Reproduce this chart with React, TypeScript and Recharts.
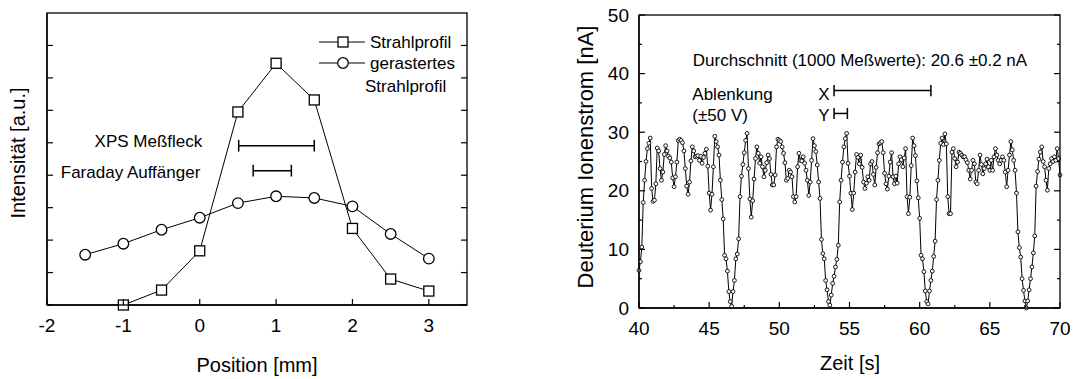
import React from "react";
import {
  ScatterChart,
  Scatter,
  XAxis,
  YAxis,
  ReferenceLine,
  ReferenceDot,
  Legend,
} from "recharts";

const FONT = "'Liberation Sans', Arial, Helvetica, sans-serif";

// left panel: beam profile (arbitrary units)
const profilePos = [-1, -0.5, 0, 0.5, 1, 1.5, 2, 2.5, 3];
const profileVal = [0, 0.46, 1.67, 5.95, 7.45, 6.32, 2.36, 0.8, 0.43];
const rasterPos = [-1.5, -1, -0.5, 0, 0.5, 1, 1.5, 2, 2.5, 3];
const rasterVal = [1.55, 1.89, 2.32, 2.69, 3.14, 3.35, 3.3, 3.04, 2.19, 1.43];
const posTicks = [-2, -1, 0, 1, 2, 3];
const intensityTicks = [0, 1, 2, 3, 4, 5, 6, 7, 8];
const xpsSpot = [0.51, 1.5];
const faradayCup = [0.7, 1.2];

// right panel: deuterium ion current, one sample every 0.1 s from 40 s
const tStart = 40;
const tStep = 0.1;
const current1 = [
  6.4, 7.9, 10.4, 18.0, 21.8, 25.0, 27.2, 28.1, 29.0, 20.4,
  18.2, 18.4, 21.2, 27.3, 26.8, 23.8, 21.8, 23.2, 26.2, 27.7,
  26.8, 25.9, 25.6, 24.9, 22.2, 20.7, 22.4, 24.9, 28.6, 28.8,
  28.6, 28.2, 26.8, 23.8, 20.8, 19.4, 21.5, 25.1, 27.5, 26.8,
  25.8, 25.9, 26.0, 25.2, 25.9, 24.7, 25.7, 26.4, 27.1, 24.2,
];
const current2 = [
  19.6, 16.7, 19.4, 24.1, 29.3, 28.4, 27.5, 26.1, 21.8, 18.5,
  15.2, 9.0, 8.4, 6.3, 2.8, 1.1, 0.3, 2.8, 4.7, 8.4,
  9.2, 11.8, 19.0, 22.5, 24.5, 26.5, 28.6, 29.8, 23.8, 18.6,
  15.5, 18.3, 22.0, 25.5, 27.5, 26.4, 24.7, 25.8, 24.1, 22.4,
  23.5, 24.8, 26.1, 25.5, 22.8, 21.0, 21.0, 22.7, 27.5, 28.8,
];
const current3 = [
  28.6, 28.4, 27.5, 26.4, 24.8, 21.8, 22.1, 23.5, 23.2, 22.4,
  19.0, 18.1, 19.0, 24.1, 26.4, 25.2, 25.1, 25.8, 24.7, 23.5,
  21.8, 19.2, 21.5, 25.2, 28.9, 27.7, 26.7, 24.4, 21.5, 18.7,
  11.7, 9.3, 8.4, 4.7, 3.1, 1.1, 0.5, 2.2, 4.2, 5.4,
  7.0, 8.3, 10.7, 18.1, 21.8, 24.9, 27.5, 28.9, 29.8, 24.7,
];
const current4 = [
  22.5, 19.6, 16.8, 19.6, 23.2, 26.2, 25.7, 24.6, 26.1, 24.0,
  21.5, 20.4, 21.3, 22.4, 21.8, 24.6, 25.0, 22.8, 21.0, 24.0,
  26.5, 28.0, 28.2, 28.4, 26.5, 23.0, 21.2, 20.3, 22.5, 24.9,
  26.5, 22.4, 21.2, 22.5, 21.3, 24.6, 25.8, 25.3, 24.1, 25.6,
  27.2, 19.0, 16.1, 18.9, 24.3, 29.0, 27.7, 26.0, 21.7,
];
const current5 = [
  18.8, 15.3, 9.0, 8.4, 6.2, 2.9, 1.1, 0.7, 2.9, 4.7,
  6.3, 8.8, 11.4, 18.5, 21.8, 25.2, 28.1, 29.0, 27.9, 29.7,
  28.0, 19.0, 16.1, 16.1, 26.6, 27.2, 25.5, 24.1, 24.9, 26.6,
  26.4, 26.1, 25.8, 25.8, 25.3, 24.8, 23.5, 22.0, 23.5, 25.2,
  24.6, 21.5, 21.2, 23.5, 26.1, 24.5, 22.9, 23.8, 24.6, 25.4,
];
const current6 = [
  24.1, 23.5, 25.2, 23.5, 25.8, 27.2, 26.1, 25.2, 24.6, 25.2,
  25.8, 25.2, 23.2, 20.7, 23.5, 26.1, 28.4, 27.0, 25.2, 23.5,
  19.6, 13.0, 10.3, 8.7, 5.0, 3.0, 1.2, 0.0, 1.2, 3.1,
  5.0, 7.0, 9.4, 12.3, 20.8, 23.3, 25.4, 26.6, 27.5, 25.0,
  24.1, 21.8, 20.1, 23.8, 24.6, 25.5, 25.0, 25.8, 25.2, 27.2,
  25.5, 22.7,
];
const timeTicks = [40, 42.5, 45, 47.5, 50, 52.5, 55, 57.5, 60, 62.5, 65, 67.5, 70];
const currentTicks = [0, 5, 10, 15, 20, 25, 30, 35, 40, 45, 50];
const deflectX = [53.9, 60.8];
const deflectY = [53.9, 54.85];

const profileData = profilePos.map((x, i) => ({ x, y: profileVal[i] }));
const rasterData = rasterPos.map((x, i) => ({ x, y: rasterVal[i] }));
const currentData = [
  ...current1, ...current2, ...current3, ...current4, ...current5, ...current6,
].map((v, i) => ({ t: +(tStart + i * tStep).toFixed(1), v }));

const Square = ({ cx, cy }: any) => (
  <rect x={cx - 5} y={cy - 5} width={10} height={10} fill="#fff" stroke="#000" strokeWidth={1.3} />
);
const Ring = ({ cx, cy }: any) => (
  <circle cx={cx} cy={cy} r={5.3} fill="#fff" stroke="#000" strokeWidth={1.3} />
);
const SmallRing = ({ cx, cy }: any) => (
  <circle cx={cx} cy={cy} r={1.9} fill="#fff" stroke="#000" strokeWidth={0.9} />
);

const txt = (size: number) => ({ fontSize: size, fontFamily: FONT, fill: "#000" });

const yTick = (isMajor: (v: number) => boolean, labels: boolean) => (p: any) => {
  const v = p.payload.value;
  const x = Number(p.x);
  const y = Number(p.y);
  return (
    <g>
      <line x1={x} x2={x + (isMajor(v) ? 6 : 3)} y1={y} y2={y} stroke="#000" strokeWidth={1.2} />
      {labels && isMajor(v) && (
        <text x={x - 10} y={y} textAnchor="end" dominantBaseline="central" {...txt(19)}>
          {v}
        </text>
      )}
    </g>
  );
};

const xTick = (isMajor: (v: number) => boolean) => (p: any) => {
  const v = p.payload.value;
  const x = Number(p.x);
  const y = Number(p.y);
  const major = isMajor(v);
  return (
    <g>
      <line x1={x} x2={x} y1={y} y2={y - (major ? 6 : 3)} stroke="#000" strokeWidth={1.2} />
      {major && (
        <text x={x} y={y + 20} textAnchor="middle" dominantBaseline="central" {...txt(19)}>
          {v}
        </text>
      )}
    </g>
  );
};

const note = (text: string, anchor: "start" | "middle" | "end") => (props: any) => {
  const vb = props.viewBox || {};
  return (
    <text x={vb.x} y={vb.y} textAnchor={anchor} dominantBaseline="central" {...txt(17)}>
      {text}
    </text>
  );
};

const rangeBar = (key: string, range: number[], y: number, cap: number) => [
  <ReferenceLine key={key + "h"} segment={[{ x: range[0], y }, { x: range[1], y }]} stroke="#000" strokeWidth={1.5} />,
  <ReferenceLine key={key + "a"} segment={[{ x: range[0], y: y - cap }, { x: range[0], y: y + cap }]} stroke="#000" strokeWidth={1.5} />,
  <ReferenceLine key={key + "b"} segment={[{ x: range[1], y: y - cap }, { x: range[1], y: y + cap }]} stroke="#000" strokeWidth={1.5} />,
];

const textNote = (key: string, x: number, y: number, text: string, anchor: "start" | "middle" | "end") => (
  <ReferenceDot key={key} x={x} y={y} r={0} fill="none" stroke="none" label={note(text, anchor)} />
);

// box around a plot area with the y ticks repeated inward on the right edge
function PlotBox({ left, top, width, height, yMax, ticks, isMajor }: any) {
  return (
    <svg
      width={width + 2}
      height={height + 2}
      style={{ position: "absolute", left: left - 1, top: top - 1, overflow: "visible", pointerEvents: "none" }}
    >
      <rect x={1} y={1} width={width} height={height} fill="none" stroke="#000" strokeWidth={1.3} />
      {ticks.map((v: number) => {
        const y = 1 + height - (v / yMax) * height;
        const len = isMajor(v) ? 6 : 3;
        return <line key={v} x1={1 + width} x2={1 + width - len} y1={y} y2={y} stroke="#000" strokeWidth={1.2} />;
      })}
    </svg>
  );
}

const renderProfileLegend = () => (
  <svg width={170} height={70} style={{ overflow: "visible" }}>
    <line x1={4} x2={50} y1={12} y2={12} stroke="#000" strokeWidth={1} />
    <Square cx={28} cy={12} />
    <text x={55} y={12} dominantBaseline="central" {...txt(17)}>Strahlprofil</text>
    <line x1={4} x2={50} y1={33} y2={33} stroke="#000" strokeWidth={1} />
    <Ring cx={28} cy={33} />
    <text x={55} y={33} dominantBaseline="central" {...txt(17)}>gerastertes</text>
    <text x={50} y={56} dominantBaseline="central" {...txt(17)}>Strahlprofil</text>
  </svg>
);

const all = () => true;
const every10 = (v: number) => v % 10 === 0;
const every5 = (v: number) => v % 5 === 0;

export default function App() {
  return (
    <div style={{ position: "absolute", left: 0, top: 0, width: 1075, height: 379, background: "#fff" }}>
      <div style={{ position: "absolute", left: 0, top: 0 }}>
        <ScatterChart width={500} height={379} margin={{ top: 13, right: 33, bottom: 34, left: 7 }}>
          <XAxis
            type="number"
            dataKey="x"
            domain={[-2, 3.5]}
            ticks={posTicks}
            interval={0}
            tickSize={0}
            tickMargin={0}
            height={40}
            axisLine={{ stroke: "#000", strokeWidth: 1.3 }}
            tickLine={false}
            tick={xTick(all)}
            label={() => (
              <text x={257} y={365} textAnchor="middle" dominantBaseline="central" {...txt(20)}>
                Position [mm]
              </text>
            )}
          />
          <YAxis
            type="number"
            dataKey="y"
            domain={[0, 9]}
            ticks={intensityTicks}
            interval={0}
            tickSize={0}
            tickMargin={0}
            width={40}
            axisLine={{ stroke: "#000", strokeWidth: 1.3 }}
            tickLine={false}
            tick={yTick(all, false)}
            label={() => (
              <text
                x={18}
                y={153}
                textAnchor="middle"
                dominantBaseline="central"
                transform="rotate(-90 18 153)"
                {...txt(20)}
              >
                Intensität [a.u.]
              </text>
            )}
          />
          <Legend
            layout="vertical"
            align="center"
            verticalAlign="middle"
            wrapperStyle={{ position: "absolute", left: 315, top: 30, width: 170 }}
            content={renderProfileLegend}
          />
          {rangeBar("xps", xpsSpot, 4.91, 0.18)}
          {rangeBar("fc", faradayCup, 4.14, 0.18)}
          {textNote("n1", 0.034, 5.03, "XPS Meßfleck", "end")}
          {textNote("n2", 0.008, 4.08, "Faraday Auffänger", "end")}
          <Scatter
            name="Strahlprofil"
            data={profileData}
            line={{ stroke: "#000", strokeWidth: 1 }}
            shape={Square}
            isAnimationActive={false}
          />
          <Scatter
            name="gerastertes Strahlprofil"
            data={rasterData}
            line={{ stroke: "#000", strokeWidth: 1 }}
            shape={Ring}
            isAnimationActive={false}
          />
        </ScatterChart>
        <PlotBox left={47} top={13} width={420} height={292} yMax={9} ticks={intensityTicks} isMajor={all} />
      </div>

      <div style={{ position: "absolute", left: 560, top: 0 }}>
        <ScatterChart width={515} height={379} margin={{ top: 15, right: 15, bottom: 31, left: 19 }}>
          <XAxis
            type="number"
            dataKey="t"
            domain={[40, 70]}
            ticks={timeTicks}
            interval={0}
            tickSize={0}
            tickMargin={0}
            height={40}
            axisLine={{ stroke: "#000", strokeWidth: 1.3 }}
            tickLine={false}
            tick={xTick(every5)}
            label={() => (
              <text x={290} y={363} textAnchor="middle" dominantBaseline="central" {...txt(20)}>
                Zeit [s]
              </text>
            )}
          />
          <YAxis
            type="number"
            dataKey="v"
            domain={[0, 50]}
            ticks={currentTicks}
            interval={0}
            tickSize={0}
            tickMargin={0}
            width={60}
            axisLine={{ stroke: "#000", strokeWidth: 1.3 }}
            tickLine={false}
            tick={yTick(every10, true)}
            label={() => (
              <text
                x={25}
                y={157}
                textAnchor="middle"
                dominantBaseline="central"
                transform="rotate(-90 25 157)"
                {...txt(22)}
              >
                Deuterium Ionenstrom [nA]
              </text>
            )}
          />
          {textNote("avg", 43.83, 42.2, "Durchschnitt (1000 Meßwerte): 20.6 ±0.2 nA", "start")}
          {textNote("abl", 43.8, 36.5, "Ablenkung", "start")}
          {textNote("volt", 43.8, 32.8, "(±50 V)", "start")}
          {textNote("lx", 53.17, 36.5, "X", "middle")}
          {textNote("ly", 53.17, 32.8, "Y", "middle")}
          {rangeBar("dx", deflectX, 37.1, 0.95)}
          {rangeBar("dy", deflectY, 33.2, 0.95)}
          <Scatter
            name="Ionenstrom"
            data={currentData}
            line={{ stroke: "#000", strokeWidth: 1 }}
            shape={SmallRing}
            isAnimationActive={false}
          />
        </ScatterChart>
        <PlotBox left={79} top={15} width={421} height={293} yMax={50} ticks={currentTicks} isMajor={every10} />
      </div>
    </div>
  );
}
